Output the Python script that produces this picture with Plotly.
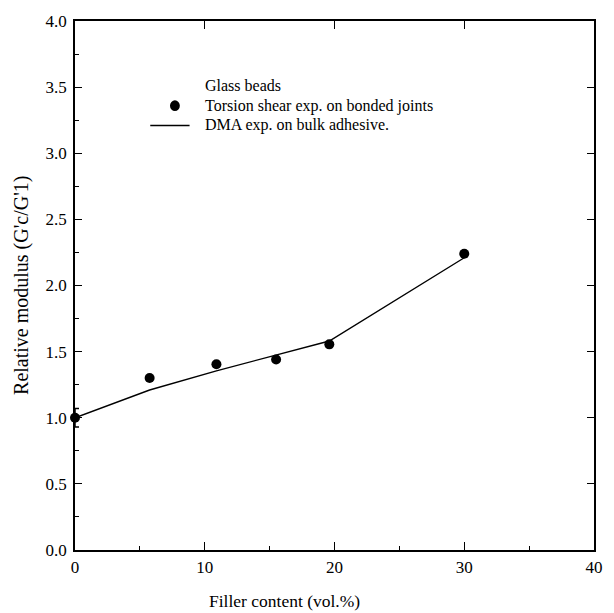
import plotly.graph_objects as go

# Relative modulus vs. glass-bead filler content
filler_torsion = [0.0, 5.75, 10.9, 15.5, 19.6, 30.0]
modulus_torsion = [1.0, 1.30, 1.405, 1.44, 1.555, 2.24]
error_torsion = [0.07]

filler_dma = [0.0, 5.75, 10.9, 15.5, 19.6, 30.0]
modulus_dma = [1.0, 1.21, 1.355, 1.475, 1.58, 2.21]

x_ticks = [0, 10, 20, 30, 40]
y_ticks = [0.0, 0.5, 1.0, 1.5, 2.0, 2.5, 3.0, 3.5, 4.0]
y_ticklabels = [f"{v:.1f}" for v in y_ticks]

x_title = "Filler content (vol.%)"
y_title = "Relative modulus (G'c/G'1)"
legend_title = "Glass beads"
legend_torsion = "Torsion shear exp. on bonded joints"
legend_dma = "DMA exp. on bulk adhesive."

FONT = "Liberation Serif"

fig = go.Figure()

fig.add_trace(go.Scatter(
    x=filler_dma, y=modulus_dma, mode="lines",
    line=dict(color="black", width=1.4), showlegend=False, cliponaxis=False,
))

# error bar on the reference (unfilled) sample
fig.add_trace(go.Scatter(
    x=filler_torsion[:1], y=modulus_torsion[:1], mode="markers",
    marker=dict(size=1, color="rgba(0,0,0,0)"),
    error_y=dict(type="data", array=error_torsion, color="black", thickness=1.5, width=4),
    showlegend=False, cliponaxis=False,
))

fig.add_trace(go.Scatter(
    x=filler_torsion, y=modulus_torsion, mode="markers",
    marker=dict(size=10, color="black"), showlegend=False, cliponaxis=False,
))

# mirrored axes carrying only the major ticks
fig.add_trace(go.Scatter(x=[0], y=[0], xaxis="x2", yaxis="y2", mode="markers",
                         marker=dict(size=1, color="rgba(0,0,0,0)"), showlegend=False,
                         hoverinfo="skip"))

axis_common = dict(showgrid=False, zeroline=False, linecolor="black", linewidth=1.6,
                   ticks="inside", tickcolor="black", tickwidth=1.2,
                   tickfont=dict(family=FONT, size=17, color="black"))

fig.update_layout(
    width=614, height=613,
    margin=dict(l=75, r=11, t=21, b=63),
    paper_bgcolor="white", plot_bgcolor="white",
    font=dict(family=FONT, color="black"),
    xaxis=dict(range=[0, 40], tickmode="array", tickvals=x_ticks, ticklen=8,
               ticklabelstandoff=1,
               minor=dict(ticks="inside", dtick=5, ticklen=4, tickcolor="black", tickwidth=1.2),
               **axis_common),
    yaxis=dict(range=[0, 4], tickmode="array", tickvals=y_ticks, ticktext=y_ticklabels, ticklen=7,
               ticklabelstandoff=3,
               minor=dict(ticks="inside", dtick=0.25, ticklen=4, tickcolor="black", tickwidth=1.2),
               **axis_common),
    xaxis2=dict(range=[0, 40], overlaying="x", side="top", tickmode="array", tickvals=x_ticks,
                ticklen=8, showticklabels=False, **axis_common),
    yaxis2=dict(range=[0, 4], overlaying="y", side="right", tickmode="array", tickvals=y_ticks,
                ticklen=7, showticklabels=False, **axis_common),
)

# axis titles
fig.add_annotation(x=288, y=613 - 601, xref="paper", yref="paper", text=x_title, showarrow=False,
                   font=dict(family=FONT, size=17.5, color="black"),
                   xanchor="center", yanchor="middle")
fig.add_annotation(x=20, y=285, xref="paper", yref="paper", text=y_title, showarrow=False,
                   textangle=-90, font=dict(family=FONT, size=20, color="black"),
                   xanchor="center", yanchor="middle")

# convert the two title positions above from pixels to paper fractions
plot_w, plot_h = 614 - 75 - 11, 613 - 21 - 63
for ann in fig.layout.annotations:
    ann.x = (ann.x - 75) / plot_w
    ann.y = (ann.y - 63) / plot_h if ann.textangle is None else (613 - 63 - ann.y) / plot_h

# legend block drawn inside the plot area
legend_font = dict(family=FONT, size=16, color="black")
for txt, yv in [(legend_title, 3.51), (legend_torsion, 3.36), (legend_dma, 3.21)]:
    fig.add_annotation(x=0.246, y=yv, xref="paper", yref="y", text=txt, showarrow=False,
                       xanchor="left", yanchor="middle", font=legend_font)
fig.add_shape(type="circle", xref="x", yref="y", x0=7.32, x1=8.08, y0=3.32, y1=3.40,
              fillcolor="black", line=dict(width=0))
fig.add_shape(type="line", xref="x", yref="y", x0=5.8, x1=8.83, y0=3.21, y1=3.21,
              line=dict(color="black", width=1.4))

fig.write_html("out.html")
